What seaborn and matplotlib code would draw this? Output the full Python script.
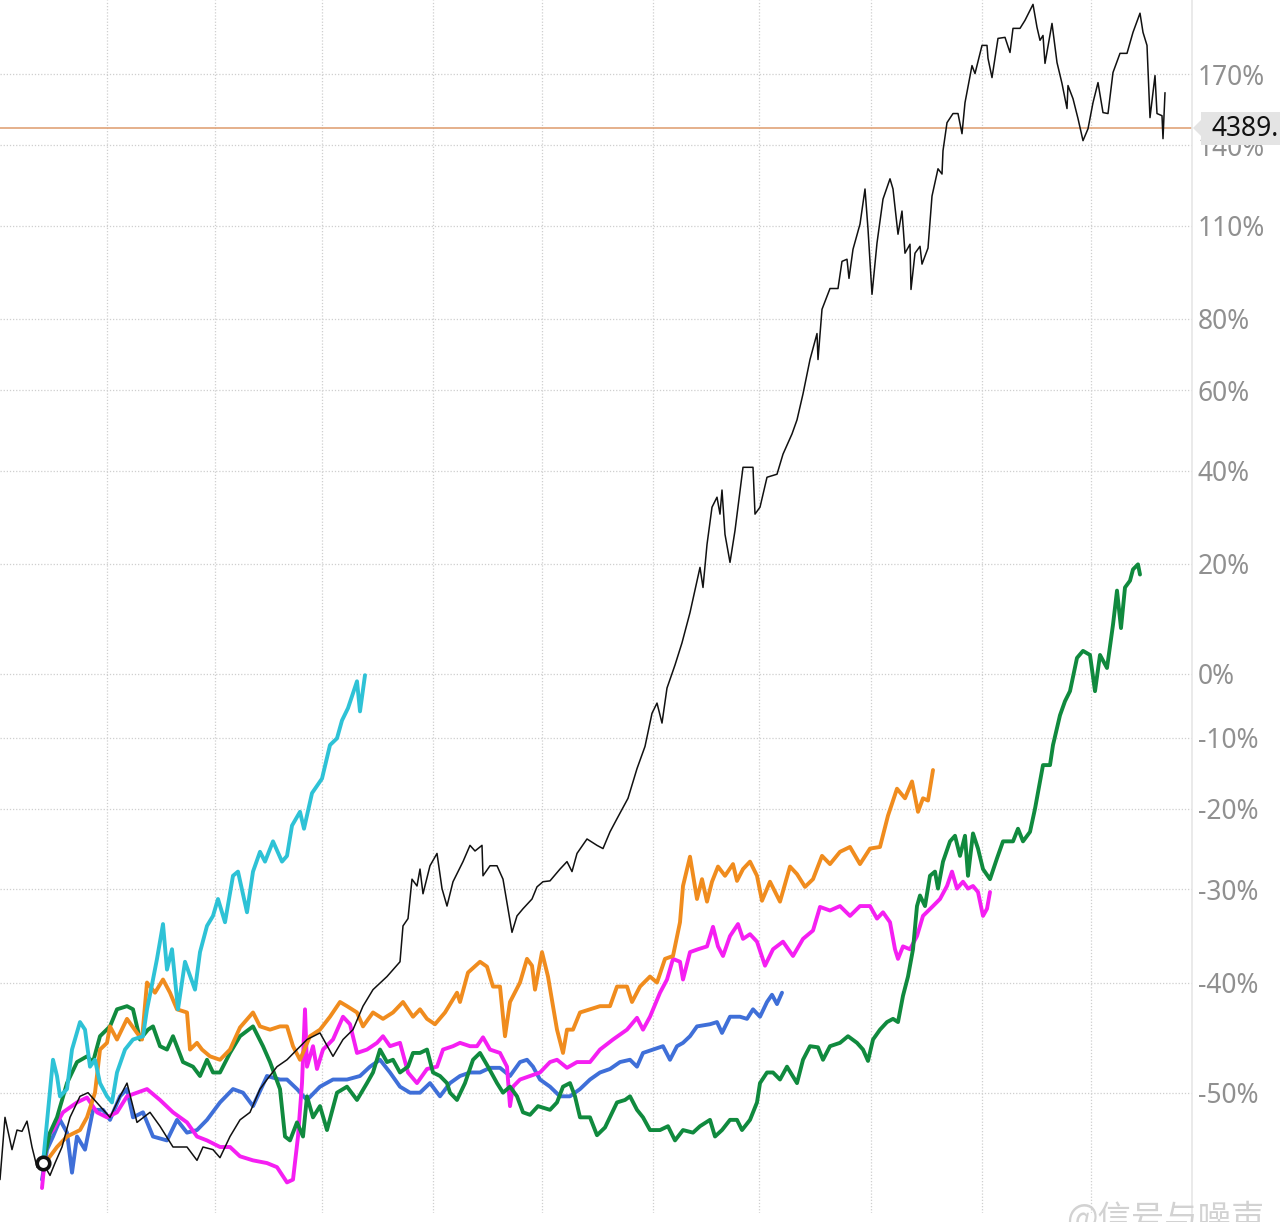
import numpy as np
import matplotlib
matplotlib.use("Agg")
import matplotlib.pyplot as plt
import seaborn as sns
from matplotlib.patches import Polygon
from matplotlib.ticker import FixedLocator, NullLocator

# right-hand axis, % change on a log scale
pct_ticks = [-50, -40, -30, -20, -10, 0, 20, 40, 60, 80, 110, 140, 170]
year_lines = [107, 215, 322, 433, 542, 653, 759, 871, 982, 1091]
last_level = 146.9
last_label = "4389."

# (day index, % change)
black = [(0,-56.7),(5,-52.0),(12,-54.5),(17,-53.0),(22,-53.1),(27,-52.3),(32,-54.3),(37,-55.8),(43,-55.5),
         (50,-56.4),(55,-55.5),(62,-54.3),(70,-52.0),(80,-50.3),(88,-50.0),(100,-51.1),(110,-52.0),(120,-50.3),
         (127,-49.2),(137,-52.4),(150,-51.6),(160,-52.7),(173,-54.3),(187,-54.3),(197,-55.3),(203,-54.3),
         (213,-54.5),(220,-55.1),(230,-53.5),(240,-52.2),(250,-51.6),(260,-49.7),(267,-48.9),(277,-47.8),
         (287,-47.2),(297,-46.3),(307,-45.4),(320,-44.8),(333,-46.9),(343,-45.4),(353,-44.5),(363,-42.3),
         (373,-40.7),(387,-39.4),(400,-37.9),(403,-34.1),(408,-33.3),(412,-28.8),(417,-29.6),(420,-27.6),
         (423,-30.5),(430,-27.2),(437,-25.7),(442,-29.9),(447,-31.9),(453,-29.1),(463,-26.7),(470,-24.7),
         (475,-25.4),(482,-24.7),(483,-28.4),(490,-27.2),(497,-27.2),(503,-28.8),(508,-32.2),(512,-34.8),
         (517,-33.0),(523,-32.2),(532,-31.1),(537,-29.7),(543,-29.1),(550,-29.0),(560,-27.6),(567,-26.7),
         (572,-27.9),(577,-25.7),(587,-23.9),(597,-24.7),(603,-25.1),(610,-23.0),(617,-21.3),(628,-18.6),
         (637,-14.5),(645,-11.3),(652,-6.3),(657,-4.7),(662,-7.8),(667,-2.3),(675,1.5),(682,5.3),(690,10.7),
         (697,16.7),(700,19.3),(703,15.4),(707,23.9),(712,31.8),(717,34.0),(720,30.3),(722,35.6),(725,26.0),
         (730,20.3),(735,26.8),(743,40.8),(753,40.8),(755,30.3),(760,31.8),(767,38.5),(777,39.2),(783,43.9),
         (792,48.8),(797,52.3),(803,59.0),(810,68.3),(817,75.7),(818,68.3),(822,82.9),(830,89.3),(838,89.3),
         (842,98.0),(847,98.7),(849,92.5),(853,102.0),(860,110.6),(865,123.2),(868,108.9),(872,87.5),
         (877,104.1),(883,119.5),(890,127.0),(893,123.2),(898,107.1),(902,115.2),(905,100.7),(910,103.7),
         (911,89.0),(915,100.7),(920,103.0),(922,97.1),(928,102.4),(932,120.6),(938,130.8),(942,128.8),
         (943,137.8),(947,149.1),(953,152.9),(958,152.9),(962,144.6),(965,157.5),(972,173.8),(975,170.2),
         (982,183.1),(987,183.1),(988,177.1),(992,168.4),(998,186.4),(1005,186.9),(1010,179.8),(1013,191.2),
         (1020,191.2),(1025,195.1),(1033,203.0),(1037,191.7),(1040,185.5),(1043,187.8),(1045,174.8),
         (1052,193.6),(1057,175.2),(1062,165.8),(1067,155.0),(1068,164.9),(1073,159.2),(1078,150.8),
         (1083,141.8),(1088,146.6),(1093,157.5),(1098,166.2),(1103,153.3),(1108,152.9),(1113,170.7),
         (1120,179.4),(1127,179.4),(1133,189.3),(1140,198.6),(1143,189.3),(1147,183.1),(1150,151.2),
         (1155,169.3),(1157,152.9),(1162,152.0),(1163,142.6),(1165,161.8)]

cyan = [(43,-55.5),(53,-47.2),(57,-48.6),(60,-50.3),(67,-49.7),(72,-46.3),(80,-43.8),(85,-44.5),(90,-47.8),
        (95,-47.2),(100,-49.2),(107,-50.3),(112,-50.8),(117,-48.3),(125,-46.3),(133,-45.4),(143,-45.1),
        (147,-42.6),(152,-40.2),(157,-37.6),(163,-33.9),(167,-38.7),(172,-36.6),(178,-42.6),(185,-37.9),
        (195,-40.7),(200,-36.9),(207,-34.1),(213,-33.0),(218,-31.1),(225,-33.7),(233,-28.4),(238,-27.9),
        (247,-32.6),(253,-27.9),(260,-25.5),(265,-26.7),(273,-24.2),(282,-26.7),(287,-26.0),(292,-22.2),
        (300,-20.4),(304,-22.6),(312,-17.9),(322,-15.9),(330,-11.1),(337,-10.1),(342,-7.4),(348,-5.5),
        (357,-1.2),(360,-6.0),(365,-0.2)]

orange = [(45,-55.5),(57,-54.3),(67,-53.5),(80,-53.0),(87,-52.0),(95,-50.0),(100,-46.3),(107,-45.7),
          (110,-44.2),(117,-45.4),(127,-43.5),(137,-44.8),(142,-45.4),(147,-40.0),(155,-41.0),(163,-39.7),
          (170,-41.0),(177,-42.6),(187,-42.9),(190,-46.3),(197,-45.7),(202,-46.3),(210,-46.9),(220,-47.2),
          (230,-46.3),(240,-44.3),(253,-42.9),(260,-44.2),(270,-44.5),(280,-44.2),(287,-44.2),(293,-46.0),
          (300,-47.2),(310,-45.1),(320,-44.5),(330,-43.3),(340,-41.9),(347,-42.3),(357,-42.9),(363,-44.2),
          (373,-42.9),(383,-43.5),(393,-42.9),(403,-41.9),(413,-43.3),(420,-42.6),(427,-43.5),(435,-44.0),
          (445,-42.9),(457,-41.0),(460,-41.9),(468,-39.0),(480,-37.9),(487,-38.4),(493,-40.4),(500,-40.4),
          (505,-45.1),(510,-41.9),(520,-40.0),(527,-37.6),(532,-38.3),(535,-40.7),(542,-36.9),(548,-39.4),
          (553,-42.3),(557,-44.5),(563,-46.6),(567,-44.5),(573,-44.5),(580,-42.9),(590,-42.6),(600,-42.3),
          (610,-42.3),(617,-40.4),(627,-40.4),(632,-41.9),(640,-40.4),(650,-39.4),(657,-40.0),(665,-37.6),
          (673,-37.3),(680,-33.7),(683,-29.6),(690,-26.1),(697,-31.1),(702,-28.8),(707,-31.4),(712,-29.1),
          (718,-27.3),(725,-28.4),(733,-27.0),(737,-29.0),(743,-27.6),(750,-26.7),(757,-28.4),(762,-31.3),
          (770,-29.1),(780,-31.4),(790,-27.3),(797,-28.2),(805,-29.7),(813,-28.8),(822,-26.0),(830,-27.0),
          (840,-25.5),(850,-24.9),(860,-27.0),(870,-25.1),(880,-24.9),(888,-20.9),(897,-17.3),(905,-18.6),
          (912,-16.3),(918,-20.4),(923,-18.6),(928,-18.9),(933,-14.7)]

magenta = [(42,-57.3),(47,-53.5),(53,-53.0),(63,-51.6),(77,-50.8),(87,-50.4),(97,-51.6),(107,-52.0),
           (117,-51.6),(127,-50.3),(137,-50.0),(147,-49.7),(160,-50.6),(173,-51.6),(187,-52.4),(197,-53.5),
           (207,-53.8),(220,-54.3),(230,-54.3),(240,-55.0),(253,-55.3),(267,-55.5),(277,-55.8),(287,-56.9),
           (293,-56.7),(298,-53.5),(302,-49.2),(305,-42.6),(307,-47.8),(313,-46.0),(317,-48.0),(323,-46.3),
           (333,-45.4),(343,-43.3),(350,-44.0),(357,-46.6),(367,-46.3),(377,-45.7),(383,-45.1),(390,-46.0),
           (400,-45.7),(408,-48.3),(417,-49.2),(427,-48.0),(437,-47.8),(443,-46.3),(453,-46.0),(460,-45.7),
           (470,-46.0),(477,-46.0),(483,-45.2),(490,-46.3),(500,-46.6),(507,-47.8),(510,-51.1),(513,-49.5),
           (520,-48.9),(530,-48.6),(540,-48.3),(550,-47.4),(557,-47.2),(567,-47.9),(577,-47.4),(590,-47.4),
           (600,-46.3),(613,-45.4),(627,-44.5),(637,-43.4),(643,-44.5),(650,-43.3),(660,-41.0),(667,-39.7),
           (673,-37.6),(680,-37.9),(683,-39.7),(690,-36.9),(698,-36.6),(707,-36.3),(713,-34.2),(718,-36.3),
           (723,-37.3),(730,-35.2),(738,-33.9),(743,-35.5),(750,-35.0),(757,-35.8),(765,-38.3),(773,-36.6),
           (783,-35.8),(793,-37.3),(803,-35.5),(813,-34.6),(820,-32.0),(830,-32.4),(840,-31.9),(850,-33.0),
           (860,-31.9),(870,-31.9),(877,-33.3),(883,-32.6),(890,-33.7),(895,-36.6),(898,-37.6),(903,-36.3),
           (910,-36.6),(917,-35.2),(923,-33.0),(933,-31.9),(940,-31.1),(947,-29.6),(952,-27.9),(957,-29.9),
           (963,-29.1),(968,-29.9),(973,-29.6),(978,-30.3),(983,-33.0),(987,-32.2),(990,-30.3)]

green = [(43,-55.5),(50,-53.2),(57,-52.0),(67,-49.2),(77,-47.4),(87,-46.9),(93,-47.4),(100,-45.1),(110,-44.2),
         (117,-42.6),(127,-42.3),(133,-42.6),(140,-45.4),(148,-44.5),(153,-44.2),(160,-46.0),(167,-46.3),
         (173,-45.1),(183,-47.4),(193,-47.8),(200,-48.6),(207,-47.2),(213,-48.3),(220,-48.3),(230,-46.6),
         (240,-45.1),(253,-44.2),(263,-46.0),(270,-47.4),(280,-49.7),(285,-53.5),(290,-53.8),(297,-52.4),
         (303,-53.5),(307,-50.3),(313,-52.0),(320,-51.1),(327,-53.0),(337,-50.0),(347,-49.5),(357,-50.6),
         (367,-49.2),(373,-48.3),(380,-46.3),(387,-47.4),(393,-47.2),(400,-48.3),(408,-47.8),(413,-46.6),
         (420,-46.6),(427,-46.3),(433,-48.3),(440,-48.6),(447,-49.2),(450,-50.0),(457,-50.6),(465,-49.2),
         (473,-47.2),(480,-46.6),(488,-47.8),(497,-49.2),(503,-50.0),(510,-49.5),(517,-50.3),(523,-51.6),
         (530,-51.8),(538,-51.1),(550,-51.4),(557,-50.8),(563,-49.5),(570,-49.2),(575,-50.3),(580,-52.0),
         (590,-52.0),(597,-53.4),(605,-52.8),(617,-50.8),(625,-50.6),(630,-50.3),(637,-51.4),(643,-52.0),
         (650,-53.0),(660,-53.0),(668,-52.7),(675,-53.8),(683,-53.0),(693,-53.2),(700,-52.7),(710,-52.2),
         (715,-53.5),(722,-53.0),(730,-52.2),(737,-52.2),(742,-53.0),(750,-52.2),(757,-50.8),(760,-49.2),
         (767,-48.3),(773,-48.3),(780,-48.9),(787,-47.8),(797,-49.2),(803,-47.2),(810,-46.0),(818,-46.1),
         (823,-47.2),(830,-46.0),(840,-45.7),(848,-45.1),(857,-45.7),(863,-46.3),(868,-47.3),(873,-45.4),
         (880,-44.5),(887,-43.8),(893,-43.5),(898,-43.8),(903,-41.3),(908,-39.4),(913,-36.6),(917,-31.9),
         (920,-30.7),(925,-31.9),(930,-28.4),(935,-27.9),(938,-29.9),(943,-26.7),(950,-24.2),(955,-23.5),
         (960,-26.0),(965,-23.5),(968,-28.4),(973,-23.2),(978,-25.1),(983,-27.6),(990,-28.8),(997,-26.3),
         (1003,-24.2),(1013,-24.2),(1018,-22.6),(1023,-24.2),(1030,-23.0),(1035,-20.0),(1040,-16.3),
         (1043,-14.0),(1050,-14.0),(1053,-11.1),(1060,-6.6),(1065,-4.4),(1070,-2.8),(1077,2.7),(1083,3.9),
         (1090,3.2),(1095,-2.8),(1100,3.2),(1107,1.0),(1113,8.5),(1117,14.8),(1121,7.9),(1125,15.4),
         (1130,16.7),(1133,18.9),(1138,19.9),(1140,17.9)]

blue = [(42,-56.7),(47,-54.5),(53,-53.5),(60,-52.2),(67,-53.2),(72,-56.2),(77,-53.5),(85,-54.5),(93,-51.4),
        (103,-51.4),(110,-52.2),(120,-50.3),(127,-49.7),(133,-52.0),(143,-51.6),(153,-53.5),(167,-53.8),
        (177,-52.2),(187,-53.2),(197,-53.0),(207,-52.2),(220,-50.8),(233,-49.7),(243,-50.0),(253,-51.1),
        (267,-48.6),(280,-48.9),(287,-48.9),(297,-49.7),(307,-50.6),(320,-49.5),(333,-48.9),(347,-48.9),
        (360,-48.6),(370,-47.8),(380,-47.2),(390,-48.3),(400,-49.5),(410,-50.0),(420,-50.0),(430,-49.2),
        (440,-50.3),(450,-49.2),(460,-48.6),(470,-48.3),(480,-48.3),(490,-47.9),(500,-47.9),(510,-48.6),
        (520,-47.4),(527,-47.2),(533,-47.8),(540,-48.9),(550,-49.5),(560,-50.3),(570,-50.3),(580,-49.7),
        (590,-48.9),(600,-48.3),(610,-48.0),(620,-47.4),(630,-47.2),(637,-47.8),(643,-46.6),(653,-46.3),
        (663,-46.0),(670,-47.2),(677,-46.0),(683,-45.7),(690,-45.1),(697,-44.2),(710,-44.0),(717,-43.8),
        (722,-44.8),(730,-43.3),(740,-43.3),(747,-43.5),(753,-42.6),(760,-43.3),(767,-41.9),(772,-41.2),
        (777,-42.1),(782,-41.0)]

start_point = (43, -55.5)

sns.set_style("white")
plt.rcParams['font.family'] = ['Noto Sans', 'DejaVu Sans']

fig = plt.figure(figsize=(12.8, 12.22), dpi=100)
ax = fig.add_axes([0, 9 / 1222, 1192 / 1280, 1213 / 1222])

fwd = lambda v: np.log1p(np.asarray(v, dtype=float) / 100)
inv = lambda u: np.expm1(np.asarray(u, dtype=float)) * 100
ax.set_yscale('function', functions=(fwd, inv))

series = [
    (blue, '#3f6fd8', 2.8),
    (magenta, '#f51ff2', 2.8),
    (green, '#108a3e', 2.8),
    (orange, '#f08c1e', 2.8),
    (cyan, '#2ec2d6', 2.8),
    (black, '#111111', 1.1),
]
for data, col, lw in series:
    t, v = zip(*data)
    sns.lineplot(x=list(t), y=list(v), ax=ax, color=col, linewidth=lw,
                 estimator=None, sort=False)

ax.axhline(last_level, color='#e0a378', linewidth=1.2, zorder=1)
ax.plot([start_point[0]], [start_point[1]], marker='o', ms=9, mfc='white',
        mec='#111111', mew=2.6, zorder=5)

ax.set_xlim(0, 1192)
ax.set_ylim(-59.03, 205.2)
ax.yaxis.set_major_locator(FixedLocator(pct_ticks))
ax.yaxis.set_minor_locator(NullLocator())
ax.set_yticklabels([f"{p}%" for p in pct_ticks])
ax.set_xticks(year_lines)
ax.set_xticklabels([])
ax.yaxis.tick_right()
ax.tick_params(axis='y', length=0, pad=4, labelsize=19, labelcolor='#909090')
ax.tick_params(axis='x', length=0)
ax.grid(True, color='#cfcfcf', linestyle=(0, (1, 1.5)), linewidth=0.9)
ax.set_axisbelow(True)
for s in ['top', 'left', 'bottom']:
    ax.spines[s].set_visible(False)
ax.spines['right'].set_color('#e6e6e6')
ax.spines['right'].set_linewidth(1.2)
ax.set_xlabel('')
ax.set_ylabel('')

# last price tag
W, H = 1280, 1222
tag = [(1193, 128), (1201, 120), (1201, 112), (1280, 112), (1280, 145), (1201, 145), (1201, 136)]
fig.patches.append(Polygon([(x / W, 1 - y / H) for x, y in tag], closed=True,
                           transform=fig.transFigure, fc='#e4e4e4', ec='none', zorder=4))
fig.text(1211 / W, 1 - 129 / H, last_label, fontsize=19, color='#111111',
         va='center', ha='left', zorder=5)

# watermark
fig.text(1066 / W, 1 - 1201 / H, "@信号与噪声", fontsize=24, color='#d2d2d2', va='top', ha='left',
         family=['Noto Sans CJK SC', 'DejaVu Sans'])

fig.savefig("out.png", dpi=100)
